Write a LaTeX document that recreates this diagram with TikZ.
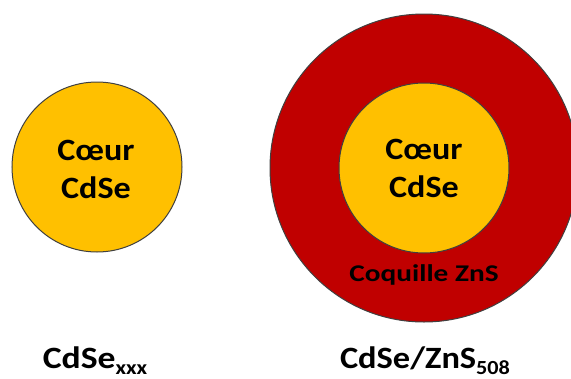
\documentclass[tikz,border=0pt]{standalone}
\usepackage{fontspec}
\setmainfont{Carlito}
\definecolor{coreyellow}{HTML}{FFC000}
\definecolor{shellred}{HTML}{C00000}
\newcommand{\stretchtxt}[2]{\scalebox{#1}[1]{#2}}
\newcommand{\subtxt}[1]{\raisebox{-0.4ex}{\fontsize{20}{20}\selectfont #1}}
\tikzset{
  disc/.style={circle, inner sep=0pt, draw=black!75, line width=1pt},
  core/.style={disc, fill=coreyellow, minimum size=170pt},
  shell/.style={disc, fill=shellred, minimum size=308pt},
  big/.style={font=\bfseries\fontsize{31}{38}\selectfont, align=center, inner sep=0pt},
  mid/.style={font=\bfseries\fontsize{24}{26}\selectfont, inner sep=0pt},
  lab/.style={font=\bfseries\fontsize{31}{34}\selectfont, inner sep=0pt, anchor=base},
}
\begin{document}
\begin{tikzpicture}[x=1pt,y=-1pt]
\useasboundingbox (0,0) rectangle (571,378);
\clip (0,0) rectangle (571,378);
\node[shell] (shellZnS) at (424,168) {};
\node[core] (core2) at (424,168) {};
\node[core] (core1) at (97,167) {};
\node[big] (t1) at (96,169) {\stretchtxt{1.1}{Cœur}\\\stretchtxt{1.1}{CdSe}};
\node[big] (t2) at (424,168) {\stretchtxt{1.1}{Cœur}\\\stretchtxt{1.1}{CdSe}};
\node[mid] (t3) at (424,275) {\stretchtxt{1.22}{Coquille ZnS}};
\node[lab] (l1) at (95,368) {\stretchtxt{1.15}{CdSe\subtxt{xxx}}};
\node[lab] (l2) at (425,368) {\stretchtxt{1.11}{CdSe/ZnS\subtxt{508}}};
\end{tikzpicture}
\end{document}
